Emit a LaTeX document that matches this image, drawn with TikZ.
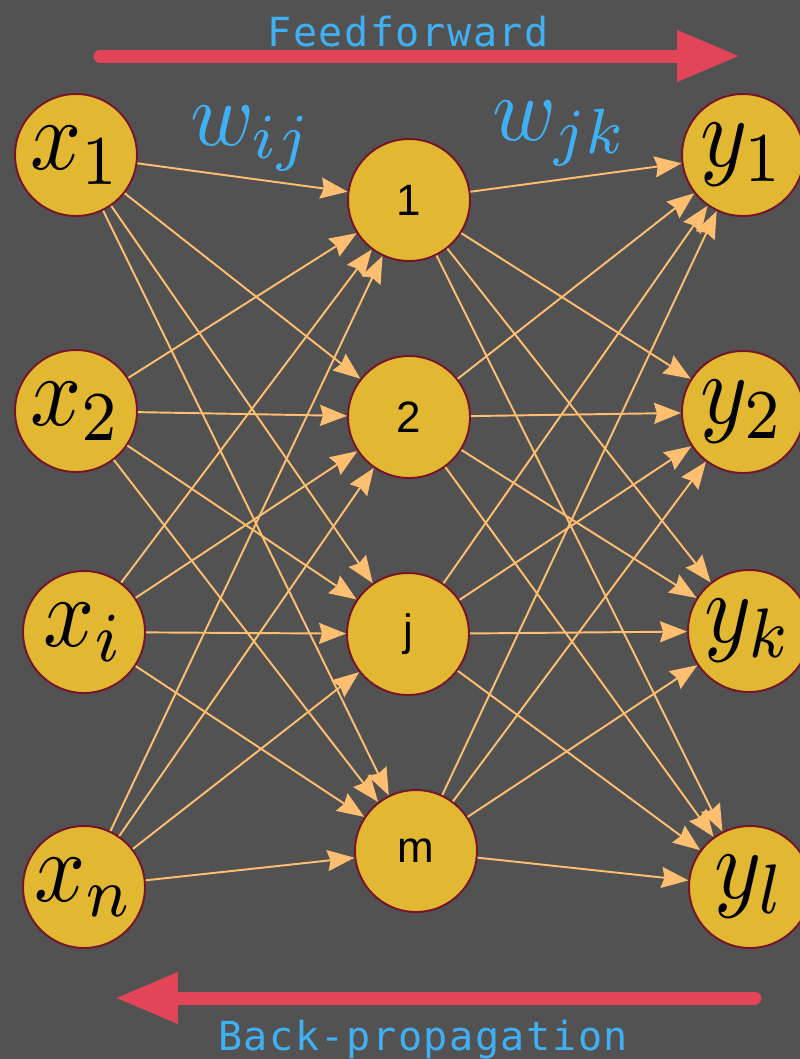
\documentclass[tikz,border=0pt]{standalone}
\usepackage{fontspec}
\usepackage{graphicx}
\usepackage{tikz}
\usetikzlibrary{arrows.meta}
\usepackage{xcolor}

\newfontfamily\hidfont{Liberation Sans}
\newfontfamily\dirfont[LetterSpace=4]{DejaVu Sans Mono}
\newcommand{\iomath}[1]{\scalebox{5.1}[5.7]{$#1$}}
\newcommand{\wmath}[1]{\scalebox{4.9}[5.2]{$#1$}}

\definecolor{bggray}{RGB}{82,82,82}
\definecolor{unitfill}{RGB}{226,183,50}
\definecolor{unitdraw}{RGB}{120,20,40}
\definecolor{wirecol}{RGB}{255,190,112}
\definecolor{dirred}{RGB}{226,69,88}
\definecolor{dirblue}{RGB}{64,176,245}

\begin{document}
\begin{tikzpicture}[x=0.02cm,y=-0.02cm,
  unit/.style={circle,draw=unitdraw,fill=unitfill,line width=1.1pt,minimum size=2.44cm,inner sep=0pt},
  io/.style={unit},
  hid/.style={unit,font=\hidfont\fontsize{25}{27}\selectfont},
  wire/.style={draw=wirecol,line width=1.1pt,-{Stealth[length=0.54cm,width=0.42cm,inset=0.06cm]}},
  dirarrow/.style={draw=dirred,line width=0.26cm,line cap=round,-{Triangle[length=1.26cm,width=0.96cm]}},
  dirtext/.style={text=dirblue,font=\dirfont\fontsize{22.8}{24}\selectfont,anchor=base,inner sep=0pt},
  wlabel/.style={text=dirblue,anchor=base west,inner sep=0pt}]
\useasboundingbox[fill=bggray] (0,0) rectangle (800,1059);

% input layer
\node[io] (x1) at (76,155) {\iomath{x_1}};
\node[io] (x2) at (76,411) {\iomath{x_2}};
\node[io] (xi) at (84,632) {\iomath{x_i}};
\node[io] (xn) at (84,887) {\iomath{x_n}};
% hidden layer
\node[hid] (h1) at (409,200) {1};
\node[hid] (h2) at (409,417) {2};
\node[hid] (hj) at (408,634) {j};
\node[hid] (hm) at (416,851) {m};
% output layer
\node[io] (y1) at (743,155) {\iomath{y_1}};
\node[io] (y2) at (743,412) {\iomath{y_2}};
\node[io] (yk) at (749,631) {\iomath{y_k}};
\node[io] (yl) at (750,887) {\iomath{y_l}};

% weights
\foreach \a in {x1,x2,xi,xn}
  \foreach \b in {h1,h2,hj,hm}
    \draw[wire] (\a) -- (\b);
\foreach \a in {h1,h2,hj,hm}
  \foreach \b in {y1,y2,yk,yl}
    \draw[wire] (\a) -- (\b);

\node[wlabel] (wij) at (190,145) {\wmath{w_{ij}}};
\node[wlabel] (wjk) at (492,140) {\wmath{w_{jk}}};

% direction arrows
\coordinate (ffstart) at (100,56);
\coordinate (ffend) at (740,56);
\draw[dirarrow] (ffstart) -- (ffend);
\node[dirtext] (fftext) at (408,46) {Feedforward};

\coordinate (bpstart) at (755,998);
\coordinate (bpend) at (115,998);
\draw[dirarrow] (bpstart) -- (bpend);
\node[dirtext] (bptext) at (423,1050) {Back-propagation};
\end{tikzpicture}
\end{document}
